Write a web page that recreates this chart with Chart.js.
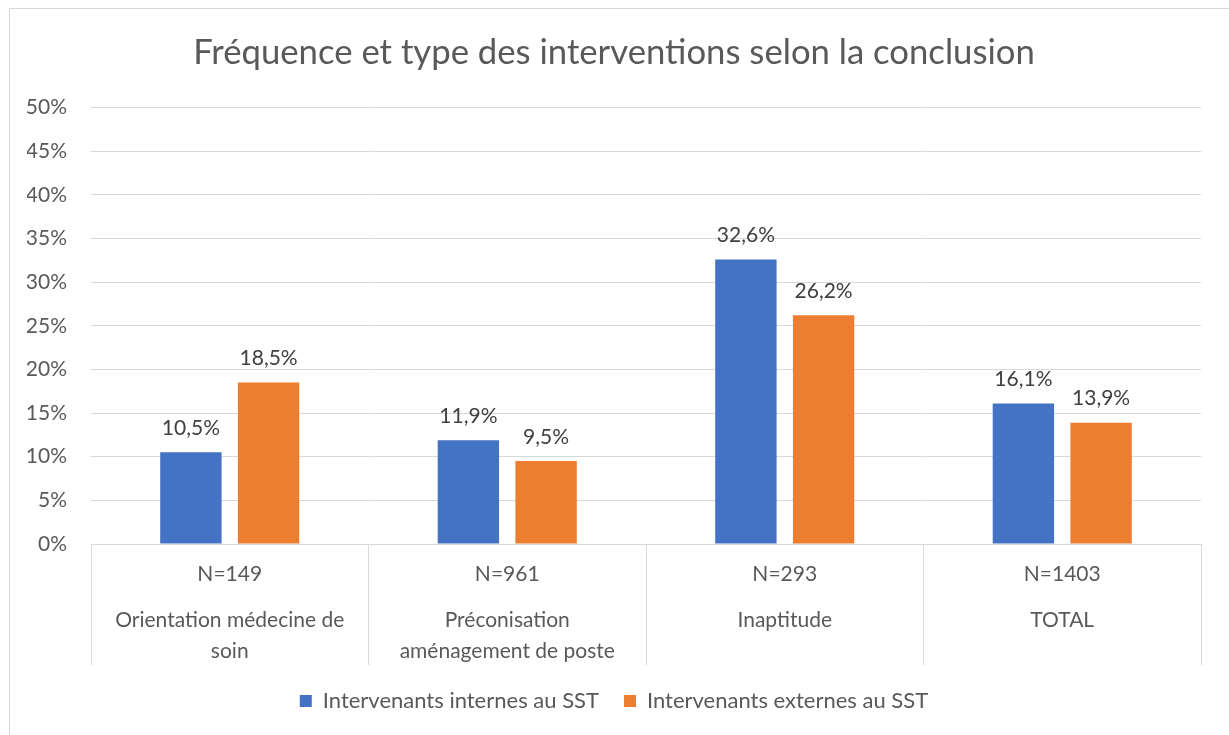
<!DOCTYPE html>
<html>
<head>
<meta charset="utf-8">
<script src="https://cdn.jsdelivr.net/npm/chart.js@4/dist/chart.umd.min.js"></script>
<style>
  body { margin: 0; background: #fff; }
  #frame { position: absolute; left: 9px; top: 8px; width: 1240px; height: 740px; border: 1px solid #d9d9d9; }
  #wrap { position: absolute; left: 0; top: 0; width: 1229px; height: 735px; }
</style>
</head>
<body>
<div id="frame"></div>
<div id="wrap"><canvas id="chart"></canvas></div>
<script>
// Chart data
var categories = [
  ['Orientation médecine de', 'soin'],
  ['Préconisation', 'aménagement de poste'],
  ['Inaptitude'],
  ['TOTAL']
];
var counts = ['N=149', 'N=961', 'N=293', 'N=1403'];
var internes = [10.5, 11.9, 32.6, 16.1];
var externes = [18.5, 9.5, 26.2, 13.9];
var seriesNames = ['Intervenants internes au SST', 'Intervenants externes au SST'];

var FONT = 'Lato, Carlito, Calibri, sans-serif';
var fmt = function (v) { return v.toFixed(1).replace('.', ',') + '%'; };

// Value labels above bars
var barLabels = {
  id: 'barLabels',
  afterDatasetsDraw: function (chart) {
    var ctx = chart.ctx;
    ctx.save();
    ctx.font = '21px ' + FONT;
    ctx.fillStyle = '#404040';
    ctx.textAlign = 'center';
    ctx.textBaseline = 'middle';
    chart.data.datasets.forEach(function (ds, i) {
      chart.getDatasetMeta(i).data.forEach(function (bar, j) {
        ctx.fillText(fmt(ds.data[j]), bar.x, bar.y - 24);
      });
    });
    ctx.restore();
  }
};

var ctx = document.getElementById('chart').getContext('2d');
new Chart(ctx, {
  type: 'bar',
  data: {
    labels: counts,
    datasets: [
      { label: seriesNames[0], data: internes, backgroundColor: '#4472c4' },
      { label: seriesNames[1], data: externes, backgroundColor: '#ed7d31' }
    ]
  },
  options: {
    responsive: true,
    maintainAspectRatio: false,
    animation: false,
    categoryPercentage: 0.56,
    barPercentage: 0.79,
    layout: { padding: { left: 27, right: 28, top: 0, bottom: 13 } },
    plugins: {
      title: {
        display: true,
        text: 'Fréquence et type des interventions selon la conclusion',
        color: '#595959',
        font: { family: FONT, size: 34.7, weight: 'normal' },
        padding: { top: 32, bottom: 34 }
      },
      legend: {
        position: 'bottom',
        labels: {
          color: '#595959',
          font: { family: FONT, size: 22 },
          boxWidth: 12,
          boxHeight: 12,
          padding: 25
        }
      },
      tooltip: { enabled: false }
    },
    scales: {
      x: {
        grid: {
          offset: true,
          drawOnChartArea: false,
          drawTicks: true,
          tickLength: 121,
          color: '#d9d9d9'
        },
        border: { display: true, color: '#d9d9d9' },
        ticks: {
          color: '#595959',
          font: { family: FONT, size: 21, lineHeight: 0.73 },
          padding: -98,
          maxRotation: 0,
          autoSkip: false,
          callback: function (value, index) {
            var names = categories[index];
            var lines = [counts[index], '', '', names[0]];
            if (names.length > 1) lines.push('', names[1]);
            return lines;
          }
        },
        afterFit: function (scale) { scale.height = 121; }
      },
      y: {
        min: 0,
        max: 50,
        grid: { color: '#d9d9d9', drawTicks: false },
        border: { display: false },
        ticks: {
          stepSize: 5,
          color: '#595959',
          font: { family: FONT, size: 21 },
          padding: 24,
          callback: function (v) { return v + '%'; }
        },
        afterFit: function (scale) { scale.width = 64; }
      }
    }
  },
  plugins: [barLabels]
});
</script>
</body>
</html>
